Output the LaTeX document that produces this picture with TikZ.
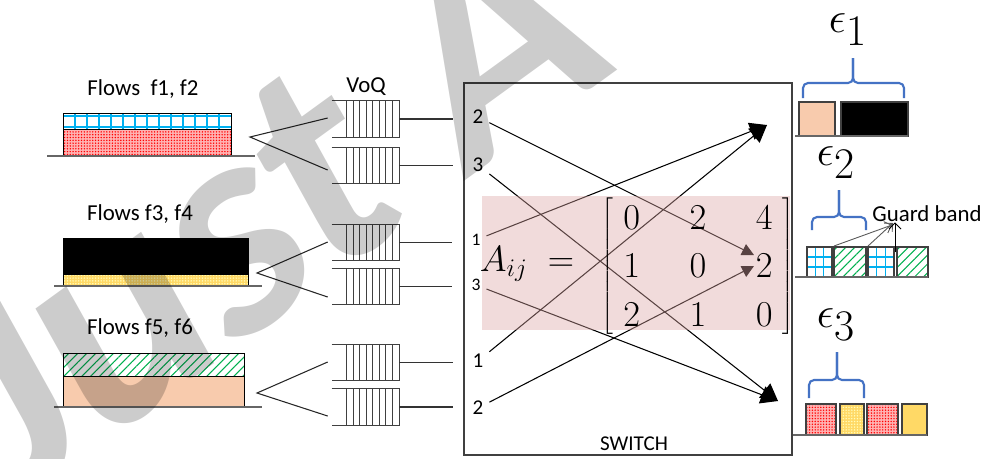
\documentclass[tikz,border=0pt]{standalone}
\usepackage{fontspec}
\setmainfont{Carlito}
\usepackage{amsmath}
\usetikzlibrary{arrows.meta,positioning,calc,matrix,patterns.meta}
\definecolor{gridblue}{HTML}{00B0F0}
\definecolor{peach}{HTML}{F8CBAD}
\definecolor{gold}{HTML}{FFD966}
\definecolor{hatchgreen}{HTML}{00B050}
\definecolor{braceblue}{HTML}{4472C4}
\definecolor{matpink}{RGB}{222,167,165}
\definecolor{linegray}{HTML}{404040}
\tikzset{
  lbl/.style={font=\fontsize{13}{15}\selectfont, inner sep=0pt},
  innum/.style={font=\fontsize{12}{14}\selectfont, inner sep=0pt, outer sep=0.12cm},
  smallnum/.style={innum, font=\fontsize{10}{12}\selectfont},
  voq/.style={rectangle, minimum width=1.34cm, minimum height=0.72cm, inner sep=0pt},
  qline/.style={draw=linegray, line width=0.7pt},
  fanline/.style={draw=black!85, line width=0.6pt},
  wire/.style={draw=black!80, line width=0.6pt, shorten >=0.28cm},
  swarr/.style={-{Triangle[length=0.34cm,width=0.36cm]}, line width=0.6pt},
  midarr/.style={-{Triangle[length=0.24cm,width=0.24cm]}, line width=0.6pt},
  gbarr/.style={-{Straight Barb[length=1.2mm]}, line width=0.5pt},
  baseln/.style={draw=black!60, line width=1pt},
  cell/.style={draw=linegray, line width=1pt},
  reddots/.style={preaction={fill=red!30}, pattern={Dots[radius=0.45pt,distance=1.6pt]}, pattern color=red},
  golddots/.style={preaction={fill=gold}, pattern={Dots[radius=0.45pt,distance=1.6pt]}, pattern color=yellow!25},
  greenhatch/.style={preaction={fill=white}, pattern={Lines[angle=45,distance=3.6pt,line width=0.6pt]}, pattern color=hatchgreen},
  epsbrace/.style={draw=braceblue, line width=1.2pt, rounded corners=0.1cm},
  epslbl/.style={font=\fontsize{36}{40}\selectfont, inner sep=0pt},
  matfont/.style={font=\fontsize{21}{25}\selectfont},
  wmark/.style={font=\fontsize{175}{175}\selectfont\bfseries\itshape, text=black, text opacity=0.2, inner sep=0pt}
}
\begin{document}
\begin{tikzpicture}[x=0.02cm, y=-0.02cm]
  \useasboundingbox (0,0) rectangle (983,458);
  \fill[white] (0,0) rectangle (983,458);

  % flows
  \node[lbl] (fl12) at (143,89) {Flows~~f1, f2};
  \draw[fill=white] (63,113) rectangle (231,129);
  \foreach \gx in {75,87,...,219}
    \draw[gridblue, line width=0.8pt] (\gx,113) -- (\gx,129);
  \draw[gridblue, line width=0.8pt] (63,116) -- (231,116) (63,127) -- (231,127);
  \draw (63,113) rectangle (231,129);
  \draw[reddots, draw=black] (63,129) rectangle (231,156);
  \draw[baseln] (47,156) -- (255,156);

  \node[lbl] (fl34) at (140,214) {Flows f3, f4};
  \draw[fill=black] (63,238) rectangle (248,274);
  \draw[golddots, draw=black] (63,274) rectangle (248,286);
  \draw[baseln] (54,286) -- (262,286);

  \node[lbl] (fl56) at (140,328) {Flows f5, f6};
  \draw[greenhatch, draw=black] (63,353) rectangle (244,376);
  \draw[fill=peach, draw=black] (63,376) rectangle (244,407);
  \draw[baseln] (54,407) -- (262,407);

  % VoQ
  \node[lbl] (voqlbl) at (366,87) {VoQ};
  \foreach \n/\yc in {q1/119,q2/165.5,q3/242.5,q4/286.5,q5/362.5,q6/407}{
    \node[voq] (\n) at (365.5,\yc) {};
    \draw[qline] (\n.north west) -- (\n.north east) -- (\n.south east) -- (\n.south west);
    \foreach \k in {0,...,7}
      \draw[qline] ($(\n.north west)+(15+6.5*\k,0)$) -- ($(\n.south west)+(15+6.5*\k,0)$);
  }

  \coordinate (fan1) at (250,137);
  \coordinate (fan2) at (257,273);
  \coordinate (fan3) at (257,393);
  \draw[fanline] ($(q1.west)+(-4,-1)$) -- (fan1) -- ($(q2.west)+(-4,4.5)$);
  \draw[fanline] ($(q3.west)+(-4,-0.5)$) -- (fan2) -- ($(q4.west)+(-4,10.5)$);
  \draw[fanline] ($(q5.west)+(-4,-0.5)$) -- (fan3) -- ($(q6.west)+(-4,9)$);

  % switch
  \node[draw=linegray, line width=1pt, minimum width=6.56cm, minimum height=7.44cm] (sw) at (628,269) {};
  \node[lbl, font=\fontsize{12}{14}\selectfont] (swlbl) at (634,444) {SWITCH};

  \node[innum] (in1) at (478,117) {2};
  \node[innum] (in2) at (478,165) {3};
  \node[smallnum] (in3) at (476,240) {1};
  \node[smallnum] (in4) at (476,285) {3};
  \node[innum] (in5) at (478,361) {1};
  \node[innum] (in6) at (478,408) {2};

  \draw[wire] (q1.east) -- (q1.east -| in1.west);
  \draw[wire] (q2.east) -- (q2.east -| in2.west);
  \draw[wire] (q3.east) -- (q3.east -| in3.west);
  \draw[wire] (q4.east) -- (q4.east -| in4.west);
  \draw[wire] (q5.east) -- (q5.east -| in5.west);
  \draw[wire] (q6.east) -- (q6.east -| in6.west);

  \coordinate (o1) at (767,125);
  \coordinate (o2u) at (754,255);
  \coordinate (o2d) at (754,266);
  \coordinate (o3) at (778,401);
  \draw[swarr] (in3) -- (o1);
  \draw[swarr] (in5) -- (o1);
  \draw[swarr] (in2) -- (o3);
  \draw[swarr] (in4) -- (o3);
  \draw[midarr] (in1) -- (o2u);
  \draw[midarr] (in6) -- (o2d);

  % matrix
  \fill[matpink, fill opacity=0.4] (482,196) rectangle (790,330);
  \node[matfont, inner sep=0pt] (aij) at (527,264) {$A_{ij}\;=$};
  \matrix (amat) [matrix of math nodes, left delimiter={[}, right delimiter={]},
    nodes={matfont, inner sep=1pt, text height=13.5pt, text depth=0pt},
    column sep=0.92cm, row sep=0.43cm] at (698,266) {
    0 & 2 & 4\\
    1 & 0 & 2\\
    2 & 1 & 0\\
  };

  % outputs
  \node[epslbl] (e1) at (848,30) {$\epsilon_1$};
  \draw[epsbrace] (803,98) |- (853,83) -- (853,58);
  \draw[epsbrace] (904,98) |- (853,83) -- (853,58);
  \draw[cell, fill=peach] (799,102) rectangle (835,136);
  \draw[cell, fill=black] (841,102) rectangle (908,136);
  \draw[baseln] (795,136) -- (908,136);

  \node[epslbl] (e2) at (836,163) {$\epsilon_2$};
  \draw[epsbrace] (812,230) |- (839,217) -- (839,190);
  \draw[epsbrace] (866,230) |- (839,217) -- (839,190);
  \foreach \bx/\bw in {807/25, 868/26}{
    \fill[white] (\bx,247) rectangle (\bx+\bw,277);
    \draw[gridblue, line width=0.8pt] (\bx+\bw/3,247) -- (\bx+\bw/3,277)
      (\bx+2*\bw/3,247) -- (\bx+2*\bw/3,277) (\bx,257) -- (\bx+\bw,257) (\bx,267) -- (\bx+\bw,267);
    \draw[cell] (\bx,247) rectangle (\bx+\bw,277);
  }
  \draw[cell, greenhatch] (834,247) rectangle (866,277);
  \draw[cell, greenhatch] (897,247) rectangle (928,277);
  \draw[baseln] (795,277) -- (928,277);
  \node[lbl] (gb) at (927,214) {Guard band};
  \coordinate (gap1) at (834,246);
  \coordinate (gap2) at (868,246);
  \coordinate (gap3) at (895,252);
  \draw[gbarr, black!65] (gap1) -- (892,225);
  \draw[gbarr, black!65] (gap2) -- (893,223);
  \draw[gbarr] (gap3) -- (gap3 |- gb.south);

  \node[epslbl] (e3) at (836,325) {$\epsilon_3$};
  \draw[epsbrace] (809,398) |- (837,380) -- (837,352);
  \draw[epsbrace] (864,398) |- (837,380) -- (837,352);
  \draw[cell, reddots] (806,404) rectangle (836,435);
  \draw[cell, golddots] (840,404) rectangle (864,435);
  \draw[cell, reddots] (867,404) rectangle (898,435);
  \draw[cell, fill=gold] (902,404) rectangle (927,435);
  \coordinate (b3) at (927,435);
  \draw[baseln] (b3 -| sw.east) -- (b3);

  % watermark
  \begin{scope}
    \clip (0,0) rectangle (983,458);
    \node[wmark, rotate=36] (wm) at (265,205) {Just A};
  \end{scope}
\end{tikzpicture}
\end{document}
